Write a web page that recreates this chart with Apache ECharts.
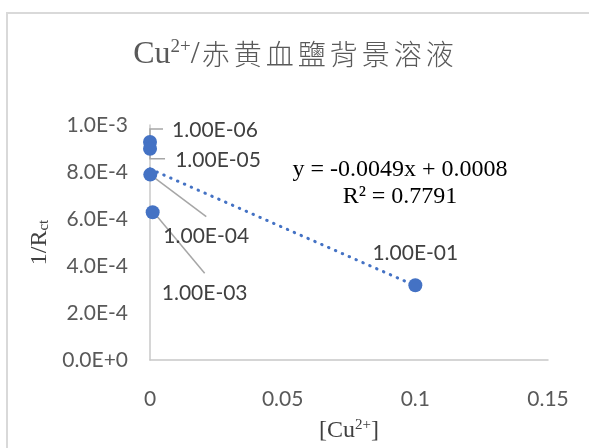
<!DOCTYPE html>
<html><head><meta charset="utf-8">
<script src="https://cdn.jsdelivr.net/npm/echarts@6/dist/echarts.min.js"></script>
<style>html,body{margin:0;padding:0;background:#fff}#c{width:589px;height:448px}</style>
</head><body><div id="c"></div>
<script>
// ---- data ----
var concLabels = ['1.00E-06', '1.00E-05', '1.00E-04', '1.00E-03', '1.00E-01'];
var concX = [0.000001, 0.00001, 0.0001, 0.001, 0.1];
var invRct = [0.000928, 0.000899, 0.000789, 0.000629, 0.000318];
var xTicks = [0, 0.05, 0.1, 0.15];
var yTicks = [0, 0.0002, 0.0004, 0.0006, 0.0008, 0.001];
var eqLine1 = 'y = -0.0049x + 0.0008';
var eqLine2 = 'R² = 0.7791';
var titleHead = 'Cu', titleSup = '2+', titleTail = '/赤黄血鹽背景溶液';

// least-squares trendline from the data
var n = concX.length, mx = 0, my = 0;
for (var i = 0; i < n; i++) { mx += concX[i]; my += invRct[i]; }
mx /= n; my /= n;
var sxy = 0, sxx = 0;
for (i = 0; i < n; i++) { sxy += (concX[i] - mx) * (invRct[i] - my); sxx += (concX[i] - mx) * (concX[i] - mx); }
var slope = sxy / sxx, icpt = my - slope * mx;
var xMin = Math.min.apply(null, concX), xMax = Math.max.apply(null, concX);
var trend = [[xMin, icpt + slope * xMin], [xMax, icpt + slope * xMax]];

// label placement relative to each marker centre (style)
var labelOffset = [[65, -12], [68, 11], [56, 62], [52, 81], [0, -32]];
var leaderPts = [
  [[0, -4], [0, -13], [13, -13]],
  [[0, 4], [0, 10], [15, 10]],
  [[0, 0], [56, 42]],
  [[1, 0], [52, 61]],
  null
];

var serif = '"Liberation Serif", "Times New Roman", serif';
var tRich = { a: { fontFamily: serif, fontSize: 32, fontWeight: 'normal', color: '#595959' },
              s: { fontFamily: serif, fontSize: 19, fontWeight: 'normal', color: '#595959', verticalAlign: 'top', padding: [0, 0, 14, 0] },
              c: { fontFamily: '"Noto Sans CJK TC", serif', fontSize: 28, fontWeight: 300, color: '#595959', padding: [0, 2] } };
var tText = '{a|' + titleHead + '}{s|' + titleSup + '}{a|' + titleTail.charAt(0) + '}';
for (i = 1; i < titleTail.length; i++) tText += '{c|' + titleTail.charAt(i) + '}';

var pts = concX.map(function (x, k) { return [x, invRct[k]]; });

var chart = echarts.init(document.getElementById('c'));
chart.setOption({
  animation: false,
  backgroundColor: '#fff',
  title: { text: tText, left: 'center', top: 33, textStyle: { fontWeight: 'normal', rich: tRich } },
  grid: { left: 150, right: 41, top: 125, bottom: 86 },
  xAxis: {
    type: 'value', min: 0, max: 0.15, interval: 0.05,
    axisLine: { show: true, lineStyle: { color: '#c8c8c8', width: 1.5 } },
    axisTick: { show: false }, splitLine: { show: false },
    axisLabel: { margin: 29, fontFamily: 'Lato', fontSize: 21, color: '#595959',
      formatter: function (v) { return String(+v.toFixed(2)); } },
    name: '{a|[Cu}{s|2+}{a|]}', nameLocation: 'middle', nameGap: 58,
    nameTextStyle: { rich: { a: { fontFamily: serif, fontSize: 24, color: '#404040' },
                             s: { fontFamily: serif, fontSize: 15, color: '#404040', verticalAlign: 'top', padding: [0, 0, 11, 0] } } }
  },
  yAxis: {
    type: 'value', min: 0, max: 0.001, interval: 0.0002,
    axisLine: { show: true, lineStyle: { color: '#c8c8c8', width: 1.5 } },
    axisTick: { show: false }, splitLine: { show: false },
    axisLabel: { margin: 22, fontFamily: 'Lato', fontSize: 21, color: '#595959',
      formatter: function (v) { return v.toExponential(1).toUpperCase(); } },
    name: '{a|1/R}{s|ct}', nameLocation: 'middle', nameGap: 97, nameRotate: 90,
    nameTextStyle: { rich: { a: { fontFamily: serif, fontSize: 24, color: '#404040' },
                             s: { fontFamily: serif, fontSize: 15, color: '#404040', verticalAlign: 'bottom', padding: [9, 0, 0, 0] } } }
  },
  graphic: [
    { type: 'rect', shape: { x: 7, y: 13, width: 600, height: 460 }, style: { fill: 'none', stroke: '#d9d9d9', lineWidth: 2 }, silent: true },
    { type: 'text', x: 400, y: 170, style: { text: eqLine1, font: '24px ' + serif, fill: '#000', align: 'center', verticalAlign: 'middle' } },
    { type: 'text', x: 400, y: 197, style: { text: eqLine2, font: '24px ' + serif, fill: '#000', align: 'center', verticalAlign: 'middle' } }
  ],
  series: [
    { type: 'line', data: trend, showSymbol: false, symbol: 'none', z: 1,
      lineStyle: { color: '#4472C4', width: 3, type: [0.5, 7], cap: 'round' } },
    { type: 'custom', z: 2, silent: true, data: pts,
      renderItem: function (params, api) {
        var L = leaderPts[params.dataIndex];
        if (!L) return null;
        var c = api.coord([api.value(0), api.value(1)]);
        return { type: 'polyline', shape: { points: L.map(function (q) { return [c[0] + q[0], c[1] + q[1]]; }) },
                 style: { stroke: '#a6a6a6', lineWidth: 1.5, fill: null } };
      } },
    { type: 'scatter', z: 3, symbolSize: 14, itemStyle: { color: '#4472C4', opacity: 1 },
      data: concX.map(function (x, k) { return { name: concLabels[k], value: pts[k] }; }),
      label: { show: true, position: 'right', distance: 5, formatter: '{b}', fontFamily: 'Lato', fontSize: 21, color: '#404040' },
      labelLayout: function (p) {
        var r = p.rect, cx = r.x + r.width / 2, cy = r.y + r.height / 2;
        var o = labelOffset[p.dataIndex];
        return { x: cx + o[0], y: cy + o[1], align: 'center', verticalAlign: 'middle' };
      } }
  ]
});
</script></body></html>
